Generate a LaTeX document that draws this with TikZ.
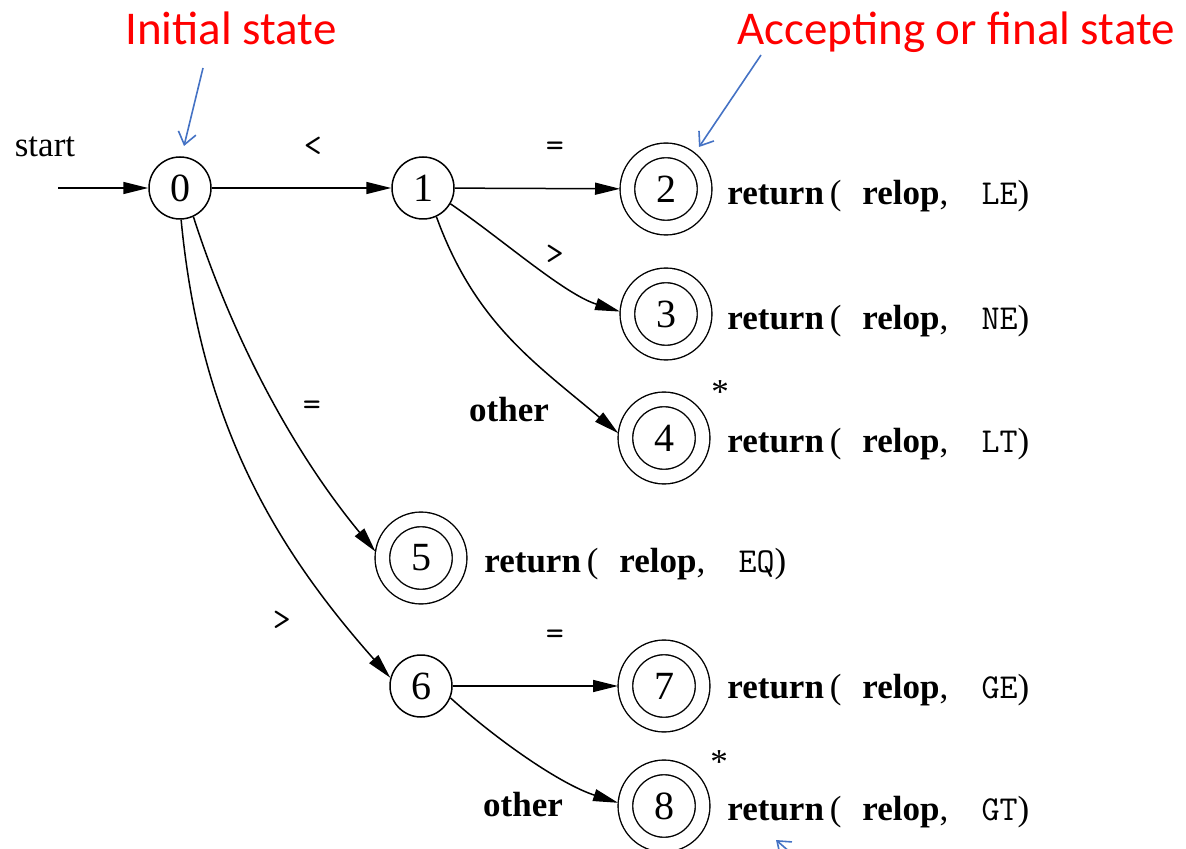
\documentclass[tikz,border=0pt]{standalone}
\usepackage{fontspec}
\setmainfont{Liberation Serif}
\newfontfamily\calib{Carlito}
\usetikzlibrary{arrows.meta}
\newcommand\retx[1]{\textbf{return}\,(\hspace{0.6em}\textbf{relop},\hspace{0.95em}\texttt{#1})}
\begin{document}
\begin{tikzpicture}[x=0.5pt,y=-0.5pt,
  txt/.style={font=\fontsize{17.5}{20}\selectfont, inner sep=0pt},
  st/.style={circle, draw, line width=0.75pt, minimum size=31pt, inner sep=0pt, font=\fontsize{20}{22}\selectfont},
  acc/.style={circle, draw, line width=0.7pt, double, double distance=6.6pt, minimum size=38.6pt, inner sep=0pt, outer sep=3.7pt, font=\fontsize{20}{22}\selectfont},
  tr/.style={line width=0.75pt, -{Triangle[length=12.5pt,width=6pt]}},
  note/.style={font=\calib\fontsize{23.5}{26}\selectfont, text=red, inner sep=0pt},
  pointer/.style={draw={rgb,255:red,68;green,114;blue,196}, line width=0.8pt, -{Straight Barb[length=6pt,width=9pt]}}
]
\useasboundingbox (0,0) rectangle (1186,849);
\clip (0,0) rectangle (1186,849);

% states
\node[st] (n0) at (180,188) {0};
\node[st] (n1) at (423,188) {1};
\node[acc] (n2) at (666,189) {2};
\node[acc] (n3) at (666,314) {3};
\node[acc] (n4) at (664,438) {4};
\node[acc] (n5) at (421,558) {5};
\node[st] (n6) at (421,686) {6};
\node[acc] (n7) at (664,686) {7};
\node[acc] (n8) at (664,806) {8};

% start
\coordinate (s) at (58,188);
\node[txt, anchor=base] (lstart) at (45,157) {start};
\draw[tr] (s) -- (n0);

% transitions
\draw[tr] (n0) -- (n1);
\draw[tr] (n1) -- (n2);
\draw[tr] (n1.-30) .. controls (502,239) and (564,294) .. (n3.177);
\draw[tr] (n1.-65) .. controls (475,323) and (535,363) .. (n4.174);
\draw[tr] (n0.-65) .. controls (233,340) and (294,453) .. (n5.172);
\draw[tr] (n0.-88) .. controls (200,417) and (270,542) .. (n6.165);
\draw[tr] (n6) -- (n7);
\draw[tr] (n6.-22) .. controls (497,740) and (560,784) .. (n8.176);

% labels
\node[txt, font=\ttfamily\fontsize{17.5}{20}\selectfont] (l01) at (313,147) {<};
\node[txt, font=\ttfamily\fontsize{17.5}{20}\selectfont] (l12) at (555,149) {=};
\node[txt, font=\ttfamily\fontsize{17.5}{20}\selectfont] (l13) at (555,255) {>};
\node[txt, font=\bfseries\fontsize{17.5}{20}\selectfont] (l14) at (509,410) {other};
\node[txt, font=\ttfamily\fontsize{17.5}{20}\selectfont] (l05) at (312,408) {=};
\node[txt, font=\ttfamily\fontsize{17.5}{20}\selectfont] (l06) at (282,621) {>};
\node[txt, font=\ttfamily\fontsize{17.5}{20}\selectfont] (l67) at (555,637) {=};
\node[txt, font=\bfseries\fontsize{17.5}{20}\selectfont] (l68) at (523,805) {other};

% stars
\node[txt] (star4) at (720,392) {*};
\node[txt] (star8) at (719,762) {*};

% return actions
\node[txt, anchor=base west] (r2) at (727,205) {\retx{LE}};
\node[txt, anchor=base west] (r3) at (727,330) {\retx{NE}};
\node[txt, anchor=base west] (r4) at (727,452) {\retx{LT}};
\node[txt, anchor=base west] (r5) at (484,572) {\retx{EQ}};
\node[txt, anchor=base west] (r7) at (727,698) {\retx{GE}};
\node[txt, anchor=base west] (r8) at (727,820) {\retx{GT}};

% annotations
\node[note, anchor=base] (ninit) at (231,45) {Initial state};
\node[note, anchor=base] (nacc) at (956,45) {Accepting or final state};
\coordinate (p1s) at (203,68);
\coordinate (p1e) at (184,146);
\coordinate (p2s) at (761,55);
\coordinate (p2e) at (699,147);
\coordinate (p3s) at (806,866);
\coordinate (p3e) at (776,840);
\draw[pointer] (p1s) -- (p1e);
\draw[pointer] (p2s) -- (p2e);
\draw[pointer] (p3s) -- (p3e);
\end{tikzpicture}
\end{document}
